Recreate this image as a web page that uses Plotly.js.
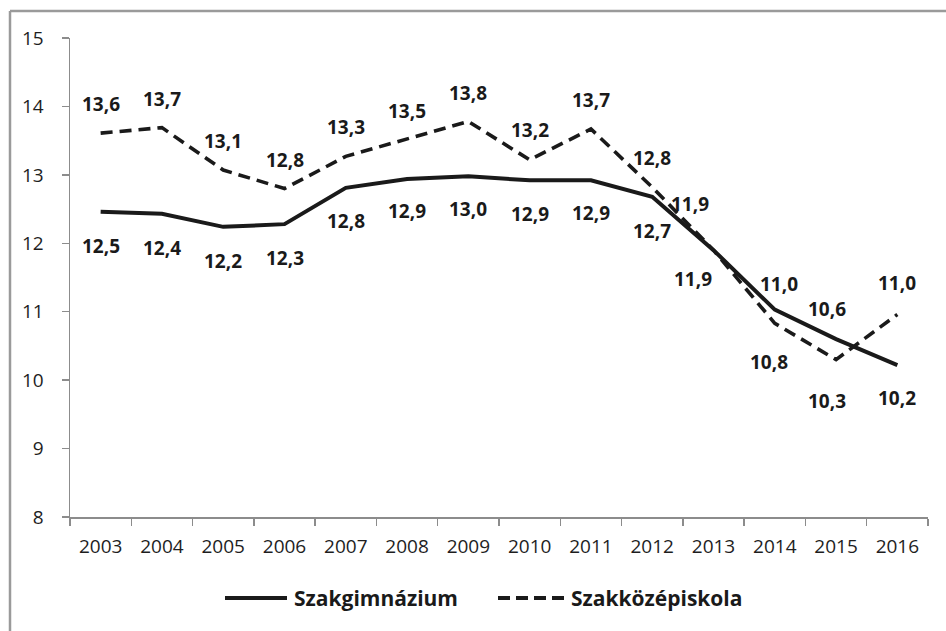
<!DOCTYPE html>
<html>
<head>
<meta charset="utf-8">
<script src="https://cdn.plot.ly/plotly-3.0.1.min.js"></script>
<style>
html,body{margin:0;padding:0;background:#fff;}
#chart{width:946px;height:631px;}
</style>
</head>
<body>
<div id="chart"></div>
<script>
// ---- data ----
const years = ["2003","2004","2005","2006","2007","2008","2009","2010","2011","2012","2013","2014","2015","2016"];
const szakgimnazium = [12.46, 12.43, 12.24, 12.28, 12.81, 12.94, 12.98, 12.92, 12.92, 12.68, 11.90, 11.03, 10.60, 10.22];
const szakkozepiskola = [13.61, 13.69, 13.07, 12.80, 13.27, 13.53, 13.78, 13.22, 13.67, 12.82, 11.90, 10.83, 10.30, 10.96];
const seriesNames = ["Szakgimnázium", "Szakközépiskola"];
const yTicks = [8, 9, 10, 11, 12, 13, 14, 15];

// ---- label placement (pixels, style only) ----
const solidShiftX = [0,0,0,0,0,0,0,0,0,0,-21,4,-9,0];
const solidShiftY = [-34,-34,-34,-34,-33,-32,-33,-34,-33,-34,-29,26,30,-33];
const dashShiftX  = [0,0,0,0,0,0,0,0,0,0,-24,-6,-9,0];
const dashShiftY  = [29,29,29,29,29,28,28,30,29,29,46,-39,-41,31];

const fmt = v => v.toFixed(1).replace('.', ',');
const lineColor = '#1a1a1a';
const labelFont = {family: 'Open Sans, sans-serif', size: 19, color: '#1a1a1a'};

const traces = [
  {x: years, y: szakgimnazium, name: seriesNames[0], type: 'scatter', mode: 'lines',
   line: {color: lineColor, width: 4}, showlegend: false, hoverinfo: 'x+y'},
  {x: years, y: szakkozepiskola, name: seriesNames[1], type: 'scatter', mode: 'lines',
   line: {color: lineColor, width: 3.6, dash: '12px,7px'}, showlegend: false, hoverinfo: 'x+y'}
];

const annotations = [];
for (let i = 0; i < years.length; i++) {
  annotations.push({x: i, y: szakkozepiskola[i], xref: 'x', yref: 'y', text: '<b>' + fmt(szakkozepiskola[i]) + '</b>',
    showarrow: false, xshift: dashShiftX[i], yshift: dashShiftY[i], font: labelFont});
  annotations.push({x: i, y: szakgimnazium[i], xref: 'x', yref: 'y', text: '<b>' + fmt(szakgimnazium[i]) + '</b>',
    showarrow: false, xshift: solidShiftX[i], yshift: solidShiftY[i], font: labelFont});
}

// custom legend (long line samples as in the reference)
const L = 70, R = 928, T = 38, B = 517;
const px = p => (p - L) / (R - L);
const py = p => (B - p) / (B - T);
const legY = py(598);
const legendFont = {family: 'Open Sans, sans-serif', size: 21, color: '#1a1a1a'};
annotations.push({xref: 'paper', yref: 'paper', x: px(292), y: legY, xanchor: 'left', yanchor: 'middle',
  text: '<b>' + seriesNames[0] + '</b>', showarrow: false, font: legendFont});
annotations.push({xref: 'paper', yref: 'paper', x: px(569), y: legY, xanchor: 'left', yanchor: 'middle',
  text: '<b>' + seriesNames[1] + '</b>', showarrow: false, font: legendFont});

const shapes = [
  {type: 'line', xref: 'paper', yref: 'paper', x0: px(225), x1: px(287), y0: legY, y1: legY,
   line: {color: lineColor, width: 4}},
  {type: 'line', xref: 'paper', yref: 'paper', x0: px(498), x1: px(564), y0: legY, y1: legY,
   line: {color: lineColor, width: 4, dash: '12px,6px'}},
  {type: 'line', xref: 'paper', yref: 'paper', x0: px(10), x1: px(960), y0: py(11), y1: py(11),
   line: {color: '#9a9a9a', width: 2.5}},
  {type: 'line', xref: 'paper', yref: 'paper', x0: px(10), x1: px(10), y0: py(11), y1: py(650),
   line: {color: '#9a9a9a', width: 2.5}}
];

const layout = {
  width: 946, height: 631,
  margin: {l: L, r: 946 - R, t: T, b: 631 - B, pad: 0},
  paper_bgcolor: '#ffffff', plot_bgcolor: '#ffffff',
  showlegend: false,
  font: {family: 'Open Sans, sans-serif', color: '#222'},
  xaxis: {
    type: 'category', categoryorder: 'array', categoryarray: years,
    range: [-0.5, years.length - 0.5],
    showgrid: false, zeroline: false,
    showline: true, linecolor: '#8c8c8c', linewidth: 1.5,
    ticks: 'outside', tickson: 'boundaries', ticklen: 7, tickcolor: '#8c8c8c', tickwidth: 1.5,
    tickfont: {family: 'Open Sans, sans-serif', size: 19, color: '#1e1e1e'},
    ticklabelstandoff: 12
  },
  yaxis: {
    range: [8, 15], tickvals: yTicks, ticktext: yTicks.map(String),
    showgrid: false, zeroline: false,
    showline: true, linecolor: '#8c8c8c', linewidth: 1.5,
    ticks: 'outside', ticklen: 7, tickcolor: '#8c8c8c', tickwidth: 1.5,
    tickfont: {family: 'Open Sans, sans-serif', size: 19, color: '#1e1e1e'},
    ticklabelstandoff: 14
  },
  annotations: annotations,
  shapes: shapes
};

Plotly.newPlot('chart', traces, layout, {staticPlot: true, displayModeBar: false});
</script>
</body>
</html>
